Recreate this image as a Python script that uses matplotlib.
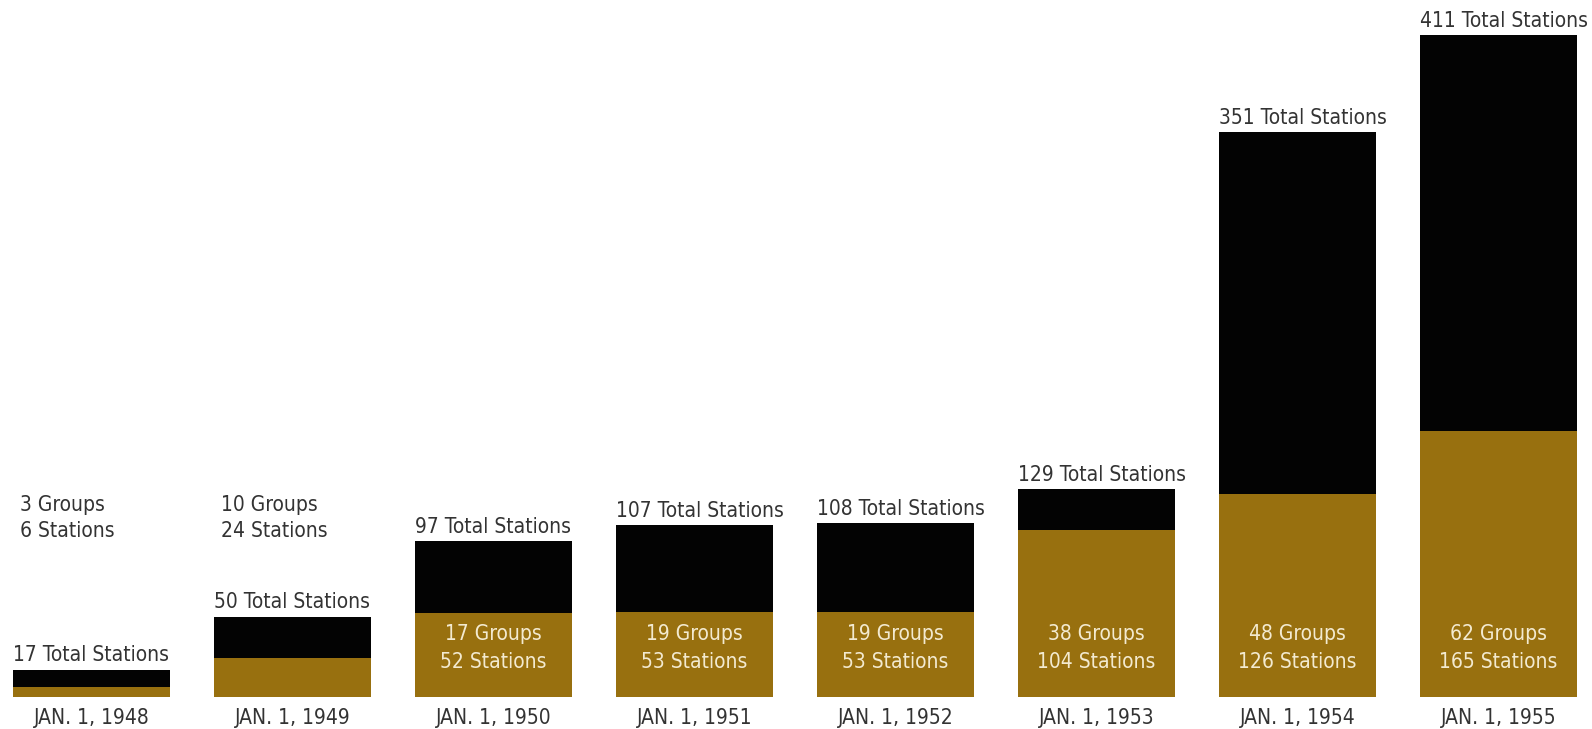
import matplotlib
matplotlib.use("Agg")
import matplotlib.pyplot as plt
from matplotlib import font_manager as fm

dates = ["JAN. 1, 1948", "JAN. 1, 1949", "JAN. 1, 1950", "JAN. 1, 1951",
         "JAN. 1, 1952", "JAN. 1, 1953", "JAN. 1, 1954", "JAN. 1, 1955"]
total_stations = [17, 50, 97, 107, 108, 129, 351, 411]
group_stations = [6, 24, 52, 53, 53, 104, 126, 165]
groups = [3, 10, 17, 19, 19, 38, 48, 62]

GOLD = "#98700f"
BLACK = "#030303"
DARK = "#333333"
CREAM = "#f3ead0"

names = sorted({f.name + " | " + str(f.stretch) + " | " + f.fname.split('/')[-1] for f in fm.fontManager.ttflist})
print("\n".join(n for n in names if 'Narrow' in n or 'ondensed' in n or 'Liberation' in n))

plt.rcParams['font.family'] = ['DejaVu Sans']

fig = plt.figure(figsize=(15.92, 7.29), dpi=100)
ax = fig.add_axes([0, 32/729, 1, 697/729])
ax.set_xlim(-0.455, 7.465)
ax.set_ylim(0, 433)
ax.axis('off')

width = 0.78
x = list(range(len(dates)))
others = [t - g for t, g in zip(total_stations, group_stations)]
ax.bar(x, group_stations, width=width, color=GOLD, linewidth=0)
ax.bar(x, others, width=width, bottom=group_stations, color=BLACK, linewidth=0)

fs = 15
kw = dict(fontsize=fs, fontstretch='condensed')
for i in x:
    left = i - width / 2
    ax.annotate(f"{total_stations[i]} Total Stations", (left, total_stations[i]),
                xytext=(0, 3), textcoords='offset points', ha='left', va='bottom',
                color=DARK, **kw)
    ax.annotate(dates[i], (i, 0), xytext=(0, -15), textcoords='offset points',
                ha='center', va='center', color=DARK, **kw)
    if group_stations[i] >= 40:
        ax.text(i, 39, f"{groups[i]} Groups", ha='center', va='center',
                color=CREAM, **kw)
        ax.text(i, 21.5, f"{group_stations[i]} Stations", ha='center', va='center',
                color=CREAM, **kw)
    else:
        ax.text(left + 0.035, 119, f"{groups[i]} Groups", ha='left', va='center',
                color=DARK, **kw)
        ax.text(left + 0.035, 103, f"{group_stations[i]} Stations", ha='left', va='center',
                color=DARK, **kw)

fig.savefig("out.png", dpi=100)
